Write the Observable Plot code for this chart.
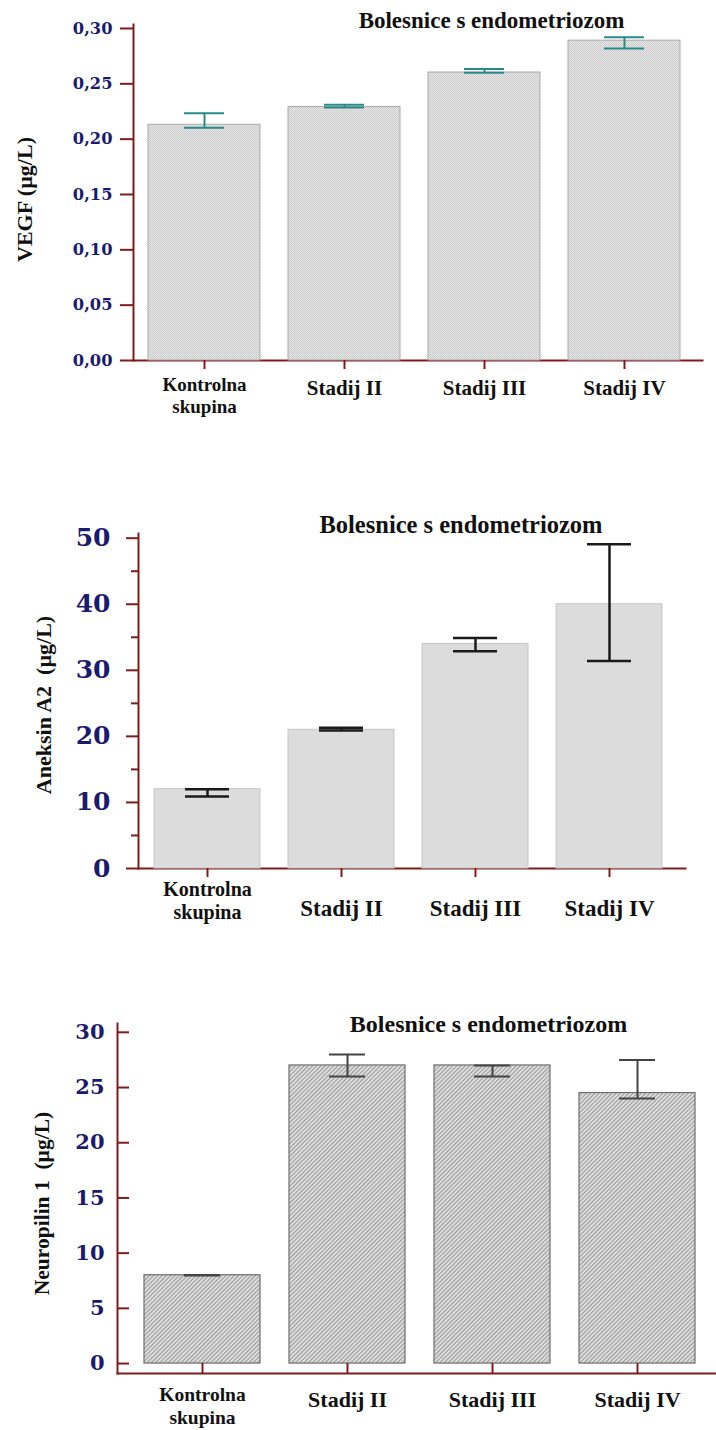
<!DOCTYPE html>
<html>
<head>
<meta charset="utf-8">
<script src="https://cdn.jsdelivr.net/npm/d3@7"></script>
<script src="https://cdn.jsdelivr.net/npm/@observablehq/plot@0.6"></script>
<style>
  body { margin: 0; background: #fff; }
  #wrap { position: relative; width: 716px; height: 1430px; overflow: hidden; background: #fff; }
  .panel { position: absolute; left: 0; }
  .panel svg { max-width: none !important; }
</style>
</head>
<body>
<svg width="0" height="0" style="position:absolute">
  <defs>
    <pattern id="dots" width="2" height="2" patternUnits="userSpaceOnUse">
      <rect width="2" height="2" fill="#e6e6e6"></rect>
      <rect width="1" height="1" fill="#c9c9c9"></rect>
      <rect x="1" y="1" width="1" height="1" fill="#cfcfcf"></rect>
    </pattern>
    <pattern id="hatch" width="3" height="3" patternUnits="userSpaceOnUse" patternTransform="rotate(45)">
      <rect width="3" height="3" fill="#dcdcdc"></rect>
      <line x1="0.5" y1="0" x2="0.5" y2="3" stroke="#999999" stroke-width="1"></line>
    </pattern>
  </defs>
</svg>
<div id="wrap"></div>
<script>
// ---------------- data ----------------
const categories = ["Kontrolna\nskupina", "Stadij II", "Stadij III", "Stadij IV"];
const titleText = "Bolesnice s endometriozom";

const vegfLabel = "VEGF (µg/L)";
const vegfMean = [0.213, 0.229, 0.2602, 0.289];
const vegfLow  = [0.2103, 0.2285, 0.2600, 0.282];
const vegfHigh = [0.2235, 0.2312, 0.2635, 0.292];
const vegfTicks = [0, 0.05, 0.10, 0.15, 0.20, 0.25, 0.30];

const aneksinLabel = "Aneksin A2  (µg/L)";
const aneksinMean = [12.0, 21.0, 34.0, 40.0];
const aneksinLow  = [10.9, 20.9, 32.9, 31.4];
const aneksinHigh = [12.0, 21.3, 34.9, 49.1];
const aneksinTicks = [0, 10, 20, 30, 40, 50];
const aneksinMinorTicks = [5, 15, 25, 35, 45];

const neuropilinLabel = "Neuropilin 1  (µg/L)";
const neuropilinMean = [8.0, 27.0, 27.0, 24.5];
const neuropilinLow  = [7.97, 26.0, 26.0, 24.0];
const neuropilinHigh = [8.03, 28.0, 27.0, 27.5];
const neuropilinTicks = [0, 5, 10, 15, 20, 25, 30];

// ---------------- styles ----------------
const AXIS = "#7e1c1c";
const NAVY = "#1b1b6e";
const serif = "'Liberation Serif', 'Times New Roman', serif";
const numFont = "'DejaVu Serif', serif";

function rows(mean, lo, hi) {
  return categories.map((c, i) => ({cat: c, mean: mean[i], lo: lo[i], hi: hi[i]}));
}

function errMarks(data, stroke, strokeWidth, inset) {
  return [
    Plot.ruleX(data, {x: "cat", y1: "lo", y2: "hi", stroke, strokeWidth}),
    Plot.tickY(data, {x: "cat", y: "hi", stroke, strokeWidth, insetLeft: inset, insetRight: inset}),
    Plot.tickY(data, {x: "cat", y: "lo", stroke, strokeWidth, insetLeft: inset, insetRight: inset})
  ];
}

function catAxes(tickSize, padFirst, padRest, sizeFirst, sizeRest) {
  const common = {tickSize, stroke: AXIS, strokeWidth: 2, fill: "#111",
    fontFamily: serif, fontWeight: "bold", lineHeight: 1.15, label: null};
  return [
    Plot.axisX({...common, ticks: [categories[0]], tickPadding: padFirst, fontSize: sizeFirst}),
    Plot.axisX({...common, ticks: categories.slice(1), tickPadding: padRest, fontSize: sizeRest})
  ];
}

function titleMark(size, dx, dy) {
  return Plot.text([titleText], {frameAnchor: "top-left", dx, dy, textAnchor: "middle",
    lineAnchor: "middle", fontSize: size, fontFamily: serif, fontWeight: "bold", fill: "#111"});
}

function yLabelMark(label, size, dx, dy) {
  return Plot.text([label], {frameAnchor: "left", rotate: -90, dx, dy, textAnchor: "middle",
    lineAnchor: "middle", fontSize: size, fontFamily: serif, fontWeight: "bold", fill: "#111"});
}

const wrap = document.getElementById("wrap");
function place(svg, top) {
  const d = document.createElement("div");
  d.className = "panel";
  d.style.top = top + "px";
  d.appendChild(svg);
  wrap.appendChild(d);
}

// ---------------- chart 1: VEGF ----------------
const vegfData = rows(vegfMean, vegfLow, vegfHigh);
place(Plot.plot({
  width: 716, height: 430,
  marginTop: 24, marginBottom: 70, marginLeft: 133, marginRight: 14,
  x: {type: "band", domain: categories, range: [147, 681], paddingInner: 0.2, paddingOuter: 0},
  y: {domain: [0, 0.3036]},
  marks: [
    Plot.frame({anchor: "bottom", stroke: AXIS, strokeWidth: 2}),
    Plot.barY(vegfData, {x: "cat", y: "mean", fill: "url(#dots)", stroke: "#a9a9a9", strokeWidth: 1}),
    ...errMarks(vegfData, "#2a8a8a", 2, 36),
    Plot.frame({anchor: "left", stroke: AXIS, strokeWidth: 2}),
    Plot.axisY({ticks: vegfTicks, tickSize: 13, tickPadding: 8, stroke: AXIS, strokeWidth: 2,
      fill: NAVY, fontSize: 16.3, fontFamily: numFont, fontWeight: "bold", label: null,
      tickFormat: d => d.toFixed(2).replace(".", ",")}),
    ...catAxes(9, 6, 8.5, 19, 21),
    titleMark(23, 358, -3.4),
    yLabelMark(vegfLabel, 22, -109, 7)
  ]
}), 0);

// ---------------- chart 2: Aneksin A2 ----------------
const aneksinData = rows(aneksinMean, aneksinLow, aneksinHigh);
place(Plot.plot({
  width: 716, height: 460,
  marginTop: 53, marginBottom: 72, marginLeft: 138, marginRight: 31,
  x: {type: "band", domain: categories, range: [152, 664], paddingInner: 0.207, paddingOuter: 0},
  y: {domain: [0, 50.71]},
  marks: [
    Plot.frame({anchor: "bottom", stroke: AXIS, strokeWidth: 2}),
    Plot.barY(aneksinData, {x: "cat", y: "mean", fill: "#dcdcdc", stroke: "#c6c6c6", strokeWidth: 1}),
    ...errMarks(aneksinData, "#1a1a1a", 2.5, 31),
    Plot.frame({anchor: "left", stroke: AXIS, strokeWidth: 2}),
    Plot.axisY({ticks: aneksinTicks, tickSize: 12, tickPadding: 16, stroke: AXIS, strokeWidth: 2,
      fill: NAVY, fontSize: 25, fontFamily: numFont, fontWeight: "bold", label: null}),
    Plot.axisY({ticks: aneksinMinorTicks, tickSize: 7, stroke: AXIS, strokeWidth: 2, fill: "none", label: null}),
    ...catAxes(9, 2, 19.5, 20, 23),
    titleMark(24.5, 322.5, -8.8),
    yLabelMark(aneksinLabel, 22, -95, 4)
  ]
}), 480);

// ---------------- chart 3: Neuropilin 1 ----------------
const neuropilinData = rows(neuropilinMean, neuropilinLow, neuropilinHigh);
place(Plot.plot({
  width: 716, height: 430,
  marginTop: 23, marginBottom: 57, marginLeft: 117, marginRight: 0,
  x: {type: "band", domain: categories, range: [144, 695], paddingInner: 0.2, paddingOuter: 0},
  y: {domain: [-0.9, 30.8]},
  marks: [
    Plot.barY(neuropilinData, {x: "cat", y1: 0, y2: "mean", fill: "url(#hatch)", stroke: "#6e6e6e", strokeWidth: 1.2}),
    ...errMarks(neuropilinData, "#444", 2, 40),
    Plot.frame({anchor: "bottom", stroke: AXIS, strokeWidth: 2}),
    Plot.frame({anchor: "left", stroke: AXIS, strokeWidth: 2}),
    Plot.axisY({ticks: neuropilinTicks, tickSize: -12, tickPadding: 25, stroke: AXIS, strokeWidth: 2,
      fill: NAVY, fontSize: 21, fontFamily: numFont, fontWeight: "bold", label: null}),
    ...catAxes(-10, 21.8, 25.5, 19.5, 22),
    titleMark(24, 371, 1.3),
    yLabelMark(neuropilinLabel, 21.5, -75, 5)
  ]
}), 1000);
</script>
</body>
</html>
